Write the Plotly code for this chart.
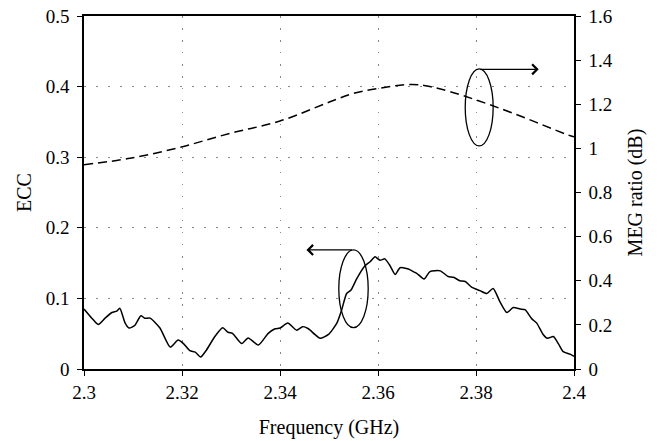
import plotly.graph_objects as go

# ECC (solid, left axis)
ecc_freq = [2.3000, 2.3016, 2.3029, 2.3043, 2.3057, 2.3067, 2.3073, 2.3084, 2.3092, 2.3104,
            2.3116, 2.3124, 2.3135, 2.3155, 2.3176, 2.3192, 2.3203, 2.3216, 2.3227, 2.3238,
            2.3250, 2.3267, 2.3283, 2.3294, 2.3303, 2.3322, 2.3335, 2.3356, 2.3376, 2.3390,
            2.3400, 2.3416, 2.3434, 2.3446, 2.3458, 2.3471, 2.3482, 2.3499, 2.3516, 2.3526,
            2.3536, 2.3545, 2.3557, 2.3573, 2.3584, 2.3594, 2.3604, 2.3614, 2.3624, 2.3635,
            2.3645, 2.3662, 2.3672, 2.3679, 2.3694, 2.3706, 2.3727, 2.3743, 2.3754, 2.3767,
            2.3778, 2.3791, 2.3808, 2.3822, 2.3835, 2.3849, 2.3863, 2.3876, 2.3890, 2.3900,
            2.3914, 2.3924, 2.3937, 2.3946, 2.3958, 2.3968, 2.3978, 2.3992, 2.4000]
ecc_vals = [0.085, 0.072, 0.063, 0.072, 0.080, 0.082, 0.086, 0.065, 0.058, 0.062,
            0.0755, 0.072, 0.072, 0.058, 0.031, 0.041, 0.036, 0.026, 0.024, 0.017,
            0.027, 0.046, 0.0585, 0.052, 0.0505, 0.036, 0.044, 0.034, 0.0505, 0.057,
            0.058, 0.065, 0.055, 0.060, 0.057, 0.049, 0.0435, 0.049, 0.065, 0.084,
            0.107, 0.112, 0.1285, 0.146, 0.152, 0.159, 0.154, 0.156, 0.147, 0.134,
            0.1435, 0.1416, 0.138, 0.1356, 0.1275, 0.138, 0.139, 0.131, 0.130, 0.125,
            0.124, 0.116, 0.111, 0.107, 0.114, 0.095, 0.080, 0.087, 0.085, 0.084,
            0.071, 0.065, 0.049, 0.0435, 0.046, 0.036, 0.0245, 0.021, 0.018]

# MEG ratio (dashed, right axis)
meg_freq = [2.3000, 2.3094, 2.3196, 2.3298, 2.3400, 2.3502, 2.3550, 2.3601, 2.3669,
            2.3706, 2.3747, 2.3801, 2.3876, 2.3985, 2.4000]
meg_vals = [0.926, 0.955, 1.005, 1.068, 1.124, 1.211, 1.249, 1.272, 1.290,
            1.280, 1.257, 1.219, 1.159, 1.063, 1.052]

x_ticks = [2.3, 2.32, 2.34, 2.36, 2.38, 2.4]
x_ticklabels = ["2.3", "2.32", "2.34", "2.36", "2.38", "2.4"]
ecc_ticks = [0, 0.1, 0.2, 0.3, 0.4, 0.5]
meg_ticks = [0, 0.2, 0.4, 0.6, 0.8, 1.0, 1.2, 1.4, 1.6]

FONT = "Liberation Serif"
TICK_SIZE = 19
TITLE_SIZE = 20

fig = go.Figure()
fig.add_trace(go.Scatter(x=ecc_freq, y=ecc_vals, mode="lines",
                         line=dict(color="black", width=1.5, shape="spline", smoothing=0.6),
                         showlegend=False))
fig.add_trace(go.Scatter(x=meg_freq, y=meg_vals, mode="lines", yaxis="y2",
                         line=dict(color="black", width=1.5, dash="9px,5px", shape="spline"),
                         showlegend=False))

# ellipses marking the curves
fig.add_shape(type="circle", xref="x", yref="y", x0=2.3778, x1=2.3835, y0=0.316, y1=0.425,
              line=dict(color="black", width=1.3))
fig.add_shape(type="circle", xref="x", yref="y", x0=2.3520, x1=2.3580, y0=0.0585, y1=0.1686,
              line=dict(color="black", width=1.3))
# arrows
fig.add_annotation(x=2.3928, y=0.4245, ax=2.3806, ay=0.4245, xref="x", yref="y",
                   axref="x", ayref="y", text="", showarrow=True, arrowhead=4,
                   arrowsize=1.5, arrowwidth=1.3, arrowcolor="black")
fig.add_annotation(x=2.3454, y=0.1686, ax=2.3550, ay=0.1686, xref="x", yref="y",
                   axref="x", ayref="y", text="", showarrow=True, arrowhead=4,
                   arrowsize=1.5, arrowwidth=1.3, arrowcolor="black")

axis_common = dict(showline=True, linecolor="black", linewidth=1.5, ticks="outside",
                   ticklen=5, tickwidth=1.3, tickcolor="black", automargin=False,
                   tickfont=dict(family=FONT, size=TICK_SIZE, color="black"), zeroline=False)

fig.update_layout(
    width=667, height=441,
    margin=dict(l=84, r=93, t=16, b=72),
    paper_bgcolor="white", plot_bgcolor="white",
    font=dict(family=FONT, size=TICK_SIZE, color="black"),
    xaxis=dict(range=[2.3, 2.4], tickvals=x_ticks, ticktext=x_ticklabels,
               showgrid=True, gridcolor="#888", gridwidth=1.2, griddash="1.5px,10.5px",
               mirror=True,
               title=dict(text="Frequency (GHz)", font=dict(family=FONT, size=TITLE_SIZE), standoff=18),
               **axis_common),
    yaxis=dict(range=[0, 0.5], tickvals=ecc_ticks,
               showgrid=True, gridcolor="#888", gridwidth=1.2, griddash="1.5px,10.5px",
               title=dict(text="ECC", font=dict(family=FONT, size=TITLE_SIZE), standoff=9),
               ticklabelstandoff=4,
               **axis_common),
    yaxis2=dict(range=[0, 1.6], tickvals=meg_ticks, overlaying="y", side="right",
                showgrid=False,
                title=dict(text="MEG ratio (dB)", font=dict(family=FONT, size=TITLE_SIZE), standoff=16),
                ticklabelstandoff=4,
                **axis_common),
)

fig.write_html("out.html")
